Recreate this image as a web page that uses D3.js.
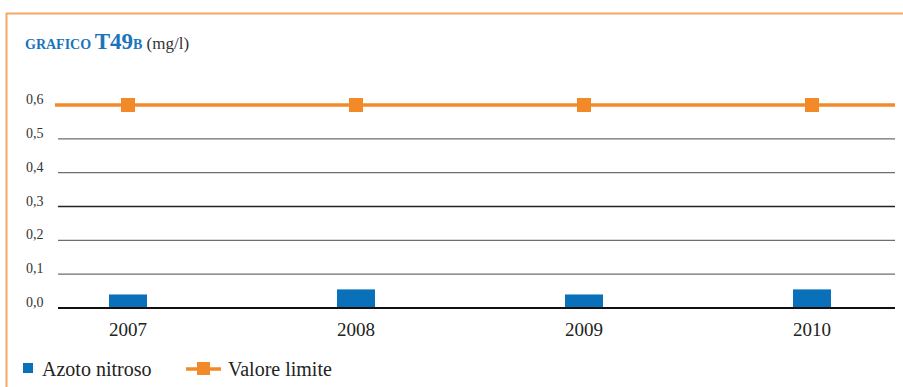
<!DOCTYPE html>
<html>
<head>
<meta charset="utf-8">
<script src="https://cdn.jsdelivr.net/npm/d3@7"></script>
<style>
  body { margin: 0; background: #fff; }
</style>
</head>
<body>
<svg id="chart"></svg>
<script>
var years = ['2007', '2008', '2009', '2010'];
var azotoNitroso = [0.04, 0.055, 0.04, 0.055];
var valoreLimite = [0.6, 0.6, 0.6, 0.6];
var yTicks = [0, 0.1, 0.2, 0.3, 0.4, 0.5, 0.6];

var serif = "'Liberation Serif', 'DejaVu Serif', 'Times New Roman', serif";
var svgWidth = 903, svgHeight = 387;
var svg = d3.select('#chart')
    .attr('width', svgWidth)
    .attr('height', svgHeight)
    .style('display', 'block');

// orange frame (top + left)
svg.append('path')
    .attr('d', 'M6.5,387 V13.5 H903')
    .attr('fill', 'none')
    .attr('stroke', '#f6a766')
    .attr('stroke-width', 2);

// title
var title = svg.append('text').attr('x', 25).attr('y', 49)
    .attr('font-family', serif).attr('font-weight', 'bold').attr('fill', '#1a75bb');
title.append('tspan').attr('font-size', 14).text('GRAFICO ');
title.append('tspan').attr('font-size', 23).text('T49');
title.append('tspan').attr('font-size', 14).text('B');
title.append('tspan').attr('font-weight', 'normal').attr('fill', '#333').attr('font-size', 17).text(' (mg/l)');

var x = d3.scalePoint().domain(years).range([128, 812]);
var y = d3.scaleLinear().domain([0, 0.6]).range([308, 105]);

// gridlines
svg.selectAll('.grid')
    .data(yTicks)
    .enter()
    .append('line')
    .attr('x1', 58)
    .attr('x2', 895)
    .attr('y1', function(d) { return y(d); })
    .attr('y2', function(d) { return y(d); })
    .attr('stroke', function(d) { return d === 0 ? '#111' : (d === 0.3 ? '#222' : '#6e6e6e'); })
    .attr('stroke-width', function(d) { return d === 0 ? 2 : 1.3; });

// y labels
svg.selectAll('.ylab')
    .data(yTicks)
    .enter()
    .append('text')
    .attr('x', 26)
    .attr('y', function(d) { return y(d) - 1; })
    .attr('font-family', serif)
    .attr('font-size', 14)
    .attr('fill', '#333')
    .text(function(d) { return d3.format('.1f')(d).replace('.', ','); });

// x labels
svg.selectAll('.xlab')
    .data(years)
    .enter()
    .append('text')
    .attr('x', function(d) { return x(d); })
    .attr('y', 336)
    .attr('text-anchor', 'middle')
    .attr('font-family', serif)
    .attr('font-size', 19)
    .attr('fill', '#222')
    .text(function(d) { return d; });

// bars
var barWidth = 38;
svg.selectAll('.bar')
    .data(azotoNitroso)
    .enter()
    .append('rect')
    .attr('x', function(d, i) { return x(years[i]) - barWidth / 2; })
    .attr('y', function(d) { return y(d); })
    .attr('width', barWidth)
    .attr('height', function(d) { return y(0) - y(d) - 1; })
    .attr('fill', '#0a70b9');

// limit line
svg.append('line')
    .attr('x1', 55).attr('x2', 895)
    .attr('y1', y(valoreLimite[0])).attr('y2', y(valoreLimite[valoreLimite.length - 1]))
    .attr('stroke', '#f28a2a').attr('stroke-width', 3.5);
svg.selectAll('.marker')
    .data(valoreLimite)
    .enter()
    .append('rect')
    .attr('x', function(d, i) { return x(years[i]) - 7; })
    .attr('y', function(d) { return y(d) - 7; })
    .attr('width', 14)
    .attr('height', 14)
    .attr('fill', '#f28a2a');

// legend
svg.append('rect').attr('x', 23).attr('y', 363).attr('width', 10).attr('height', 10).attr('fill', '#0a70b9');
svg.append('text').attr('x', 42).attr('y', 376).attr('font-family', serif).attr('font-size', 20)
    .attr('fill', '#222').text('Azoto nitroso');
svg.append('line').attr('x1', 186).attr('x2', 221).attr('y1', 369).attr('y2', 369)
    .attr('stroke', '#f28a2a').attr('stroke-width', 3.5);
svg.append('rect').attr('x', 197).attr('y', 362).attr('width', 13).attr('height', 13).attr('fill', '#f28a2a');
svg.append('text').attr('x', 228).attr('y', 376).attr('font-family', serif).attr('font-size', 20)
    .attr('fill', '#222').text('Valore limite');
</script>
</body>
</html>
